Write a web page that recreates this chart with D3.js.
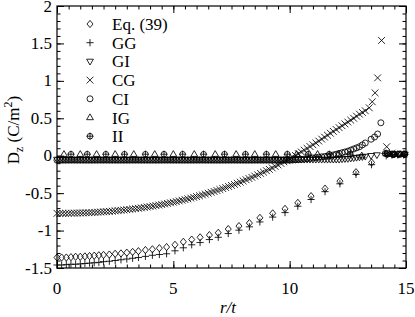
<!DOCTYPE html>
<html>
<head>
<meta charset="utf-8">
<script src="https://cdn.jsdelivr.net/npm/d3@7"></script>
<style>
  body { margin: 0; background: #fff; }
  svg { display: block; font-family: "Liberation Serif", "DejaVu Serif", serif; }
</style>
</head>
<body>
<div id="chart"></div>
<script>
// Eq. (39) and GG share these r/t positions
const rEq = [0, 0.2, 0.4, 0.6, 0.8, 1.0, 1.2, 1.4, 1.6, 1.8,
  2.0, 2.25, 2.5, 2.75, 3.0, 3.25, 3.5, 3.8, 4.1, 4.4,
  4.71, 5.07, 5.43, 5.79, 6.15, 6.55, 6.93, 7.36, 7.82, 8.27,
  8.72, 9.27, 9.8, 10.35, 10.92, 11.52, 12.16, 12.85, 13.52,
  14.15, 14.4, 14.65, 14.9];
const eq39 = [-1.36, -1.36, -1.36, -1.355, -1.35, -1.35, -1.345, -1.34, -1.335, -1.33,
  -1.325, -1.32, -1.31, -1.305, -1.295, -1.285, -1.275, -1.26, -1.25, -1.235,
  -1.22, -1.19, -1.15, -1.12, -1.09, -1.06, -1.03, -0.98, -0.94, -0.90,
  -0.83, -0.77, -0.71, -0.63, -0.54, -0.44, -0.34, -0.22, -0.09,
  0.03, 0.02, 0.02, 0.02];
const gg = [-1.46, -1.46, -1.455, -1.45, -1.45, -1.445, -1.44, -1.435, -1.43, -1.425,
  -1.415, -1.41, -1.40, -1.39, -1.38, -1.37, -1.36, -1.345, -1.33, -1.32,
  -1.31, -1.27, -1.23, -1.19, -1.16, -1.12, -1.09, -1.04, -0.995, -0.95,
  -0.885, -0.82, -0.76, -0.675, -0.585, -0.48, -0.375, -0.25, -0.12,
  0.0, 0.01, 0.01, 0.01];

// dense positions used by CG, GI, CI
const rDense = [0, 0.125, 0.25, 0.375, 0.5, 0.625, 0.75, 0.875, 1.0, 1.125,
  1.25, 1.375, 1.5, 1.625, 1.75, 1.875, 2.0, 2.125, 2.25, 2.375,
  2.5, 2.625, 2.75, 2.875, 3.0, 3.125, 3.25, 3.375, 3.5, 3.625,
  3.75, 3.875, 4.0, 4.125, 4.25, 4.375, 4.5, 4.625, 4.75, 4.875,
  5.0, 5.125, 5.25, 5.375, 5.5, 5.625, 5.75, 5.875, 6.0, 6.125,
  6.25, 6.375, 6.5, 6.625, 6.75, 6.875, 7.0, 7.125, 7.25, 7.375,
  7.5, 7.625, 7.75, 7.875, 8.0, 8.125, 8.25, 8.375, 8.5, 8.625,
  8.75, 8.875, 9.0, 9.125, 9.25, 9.375, 9.5, 9.625, 9.75, 9.875,
  10.0, 10.125, 10.25, 10.375, 10.5, 10.625, 10.75, 10.875, 11.0, 11.125,
  11.25, 11.375, 11.5, 11.625, 11.75, 11.875, 12.0, 12.125, 12.25, 12.375,
  12.5, 12.625, 12.75, 12.875, 13.0, 13.125, 13.25];

const cgR = rDense.concat([13.42, 13.55, 13.67, 13.78, 13.95, 14.17, 14.4, 14.65, 14.9]);
const cg = [-0.770, -0.770, -0.770, -0.770, -0.769, -0.768, -0.767, -0.766, -0.765, -0.764,
  -0.762, -0.761, -0.759, -0.757, -0.754, -0.752, -0.749, -0.747, -0.744, -0.741,
  -0.737, -0.733, -0.729, -0.725, -0.721, -0.717, -0.712, -0.707, -0.702, -0.697,
  -0.691, -0.685, -0.679, -0.673, -0.666, -0.659, -0.652, -0.645, -0.637, -0.629,
  -0.621, -0.613, -0.604, -0.595, -0.586, -0.576, -0.566, -0.556, -0.546, -0.535,
  -0.524, -0.513, -0.501, -0.489, -0.477, -0.465, -0.452, -0.439, -0.425, -0.411,
  -0.397, -0.383, -0.368, -0.353, -0.337, -0.321, -0.305, -0.289, -0.272, -0.255,
  -0.237, -0.219, -0.200, -0.182, -0.163, -0.143, -0.123, -0.103, -0.082, -0.061,
  -0.040, -0.018, 0.004, 0.027, 0.050, 0.074, 0.097, 0.122, 0.146, 0.171,
  0.196, 0.222, 0.248, 0.274, 0.300, 0.325, 0.350, 0.375, 0.400, 0.425,
  0.450, 0.475, 0.500, 0.528, 0.555, 0.578, 0.600,
  0.64, 0.72, 0.84, 1.04, 1.54, 0.12, 0.03, 0.02, 0.02];

const giR = rDense.concat([13.5, 13.75, 14.2, 14.45, 14.7, 14.95]);
const gi = [-0.05, -0.05, -0.05, -0.05, -0.05, -0.05, -0.05, -0.05, -0.05, -0.05,
  -0.05, -0.05, -0.05, -0.05, -0.05, -0.05, -0.05, -0.05, -0.05, -0.05,
  -0.05, -0.05, -0.05, -0.05, -0.05, -0.05, -0.05, -0.05, -0.05, -0.05,
  -0.05, -0.05, -0.05, -0.05, -0.05, -0.05, -0.05, -0.05, -0.05, -0.05,
  -0.05, -0.05, -0.05, -0.05, -0.05, -0.05, -0.05, -0.05, -0.05, -0.05,
  -0.05, -0.05, -0.05, -0.05, -0.05, -0.05, -0.05, -0.05, -0.05, -0.05,
  -0.05, -0.05, -0.05, -0.05, -0.05, -0.05, -0.05, -0.05, -0.05, -0.05,
  -0.05, -0.05, -0.05, -0.05, -0.05, -0.05, -0.05, -0.05, -0.05, -0.05,
  -0.05, -0.05, -0.05, -0.05, -0.05, -0.05, -0.05, -0.05, -0.05, -0.05,
  -0.05, -0.05, -0.05, -0.05, -0.05, -0.05, -0.05, -0.05, -0.045, -0.042,
  -0.04, -0.035, -0.03, -0.025, -0.02, -0.015, -0.01,
  0.0, 0.01, 0.02, 0.02, 0.02, 0.02];

const ciR = rDense.concat([13.5, 13.65, 13.78, 13.92, 14.2, 14.45, 14.7, 14.95]);
const ci = [-0.06, -0.06, -0.06, -0.06, -0.06, -0.06, -0.06, -0.06, -0.06, -0.06,
  -0.06, -0.06, -0.06, -0.06, -0.06, -0.06, -0.06, -0.06, -0.06, -0.06,
  -0.06, -0.06, -0.06, -0.06, -0.06, -0.06, -0.06, -0.06, -0.06, -0.06,
  -0.06, -0.06, -0.06, -0.06, -0.06, -0.06, -0.06, -0.06, -0.06, -0.06,
  -0.06, -0.06, -0.06, -0.06, -0.06, -0.06, -0.06, -0.06, -0.06, -0.06,
  -0.06, -0.06, -0.06, -0.06, -0.06, -0.06, -0.06, -0.06, -0.06, -0.06,
  -0.06, -0.06, -0.06, -0.06, -0.06, -0.06, -0.06, -0.06, -0.06, -0.06,
  -0.06, -0.06, -0.06, -0.06, -0.06, -0.06, -0.06, -0.06, -0.06, -0.06,
  -0.06, -0.058, -0.055, -0.052, -0.05, -0.045, -0.04, -0.035, -0.03, -0.025,
  -0.02, -0.015, -0.01, -0.005, 0.0, 0.01, 0.02, 0.03, 0.04, 0.05,
  0.06, 0.075, 0.09, 0.105, 0.12, 0.145, 0.17,
  0.22, 0.25, 0.29, 0.44, 0.03, 0.02, 0.02, 0.02];

const igR = [0.3, 1.0, 1.7, 2.5, 3.3, 4.2, 5.0, 5.9, 6.8, 7.7, 8.5, 9.4, 10.3, 11.2, 12.1, 13.1, 14.3, 14.75];
const ig = [0.02, 0.02, 0.02, 0.02, 0.02, 0.02, 0.02, 0.02, 0.02, 0.02, 0.02, 0.02, 0.02, 0.02, 0.02, 0.0, 0.02, 0.02];

const iiR = [0.6, 1.3, 2.1, 2.9, 3.8, 4.6, 5.4, 6.3, 7.2, 8.1, 9.0, 9.9, 10.8, 11.7, 12.6, 14.1, 14.5, 14.95];
const ii = [0.02, 0.02, 0.02, 0.02, 0.02, 0.02, 0.02, 0.02, 0.02, 0.02, 0.02, 0.02, 0.02, 0.02, 0.02, 0.03, 0.02, 0.02];

const legendNames = ["Eq. (39)", "GG", "GI", "CG", "CI", "IG", "II"];
const xTickVals = [0, 5, 10, 15];
const yTickVals = [-1.5, -1, -0.5, 0, 0.5, 1, 1.5, 2];

let width = 415;
let height = 317;
let plot = { left: 57, right: 406, top: 6, bottom: 268 };

// marker shapes, centred on 0,0
const shapes = {
  diamond: "M0,-3.6L3,0L0,3.6L-3,0Z",
  plus: "M-3.6,0H3.6M0,-3.6V3.6",
  triDown: "M-3.4,-2.2H3.4L0,3.6Z",
  cross: "M-3.4,-3.4L3.4,3.4M-3.4,3.4L3.4,-3.4",
  circle: "M3,0A3,3 0 1,1 -3,0A3,3 0 1,1 3,0Z",
  triUp: "M-3.4,2.2H3.4L0,-3.6Z",
  circlePlus: "M2.8,0A2.8,2.8 0 1,1 -2.8,0A2.8,2.8 0 1,1 2.8,0ZM-3.6,0H3.6M0,-3.6V3.6"
};

const series = [
  { r: rEq, v: eq39, shape: "diamond" },
  { r: rEq, v: gg, shape: "plus" },
  { r: giR, v: gi, shape: "triDown" },
  { r: cgR, v: cg, shape: "cross" },
  { r: ciR, v: ci, shape: "circle" },
  { r: igR, v: ig, shape: "triUp" },
  { r: iiR, v: ii, shape: "circlePlus" }
];

let svg = d3.select("#chart").append("svg")
  .attr("width", width)
  .attr("height", height);

let x = d3.scaleLinear().domain([0, 15]).range([plot.left, plot.right]);
let y = d3.scaleLinear().domain([-1.5, 2]).range([plot.bottom, plot.top]);

// points
let gPts = svg.append("g")
  .attr("fill", "none")
  .attr("stroke", "#000")
  .attr("stroke-width", 0.85);

series.forEach(s => {
  gPts.selectAll(null)
    .data(s.r.map((r, i) => [r, s.v[i]]))
    .enter().append("path")
    .attr("transform", d => `translate(${x(d[0])},${y(d[1])})`)
    .attr("d", shapes[s.shape]);
});

// inward ticks on all four sides
function tickAxis (axisFn, scale, ticks, len, transform) {
  let g = svg.append("g").attr("transform", transform);
  g.call(axisFn(scale).tickValues(ticks).tickSize(len).tickFormat(""));
  g.select(".domain").remove();
  g.selectAll("line").attr("stroke", "#000").attr("stroke-width", 1);
  return g;
}
let xMinor = d3.range(0, 15.001, 0.5);
let yMinor = d3.range(-1.5, 2.001, 0.1);

tickAxis(d3.axisTop, x, xMinor, 3.5, `translate(0,${plot.bottom})`);
tickAxis(d3.axisTop, x, xTickVals, 7, `translate(0,${plot.bottom})`);
tickAxis(d3.axisBottom, x, xMinor, 3.5, `translate(0,${plot.top})`);
tickAxis(d3.axisBottom, x, xTickVals, 7, `translate(0,${plot.top})`);
tickAxis(d3.axisRight, y, yMinor, 3.5, `translate(${plot.left},0)`);
tickAxis(d3.axisRight, y, yTickVals, 7, `translate(${plot.left},0)`);
tickAxis(d3.axisLeft, y, yMinor, 3.5, `translate(${plot.right},0)`);
tickAxis(d3.axisLeft, y, yTickVals, 7, `translate(${plot.right},0)`);

svg.append("rect")
  .attr("x", plot.left).attr("y", plot.top)
  .attr("width", plot.right - plot.left).attr("height", plot.bottom - plot.top)
  .attr("fill", "none").attr("stroke", "#000").attr("stroke-width", 1.2);

// tick labels
svg.append("g").selectAll("text").data(xTickVals).enter().append("text")
  .attr("x", d => x(d)).attr("y", 294)
  .attr("text-anchor", "middle").attr("font-size", 17)
  .text(d => d);
svg.append("g").selectAll("text").data(yTickVals).enter().append("text")
  .attr("x", 52).attr("y", d => y(d) + 5.5)
  .attr("text-anchor", "end").attr("font-size", 17)
  .text(d => d);

// axis titles
svg.append("text")
  .attr("x", 228).attr("y", 313)
  .attr("text-anchor", "middle").attr("font-size", 17).attr("font-style", "italic")
  .text("r/t");

let yt = svg.append("text")
  .attr("transform", "translate(19,130) rotate(-90)")
  .attr("text-anchor", "middle").attr("font-size", 17);
yt.append("tspan").text("D");
yt.append("tspan").attr("font-size", 12).attr("dy", 4).text("z");
yt.append("tspan").attr("dy", -4).text(" (C/m");
yt.append("tspan").attr("font-size", 12).attr("dy", -7).text("2");
yt.append("tspan").attr("dy", 7).text(")");

// legend
let leg = svg.append("g");
legendNames.forEach((name, i) => {
  let cy = 24 + i * 18.7;
  leg.append("path")
    .attr("transform", `translate(90,${cy})`)
    .attr("d", shapes[series[i].shape])
    .attr("fill", "none").attr("stroke", "#000").attr("stroke-width", 0.85);
  leg.append("text")
    .attr("x", 112).attr("y", cy + 6)
    .attr("font-size", 17)
    .text(name);
});
</script>
</body>
</html>
